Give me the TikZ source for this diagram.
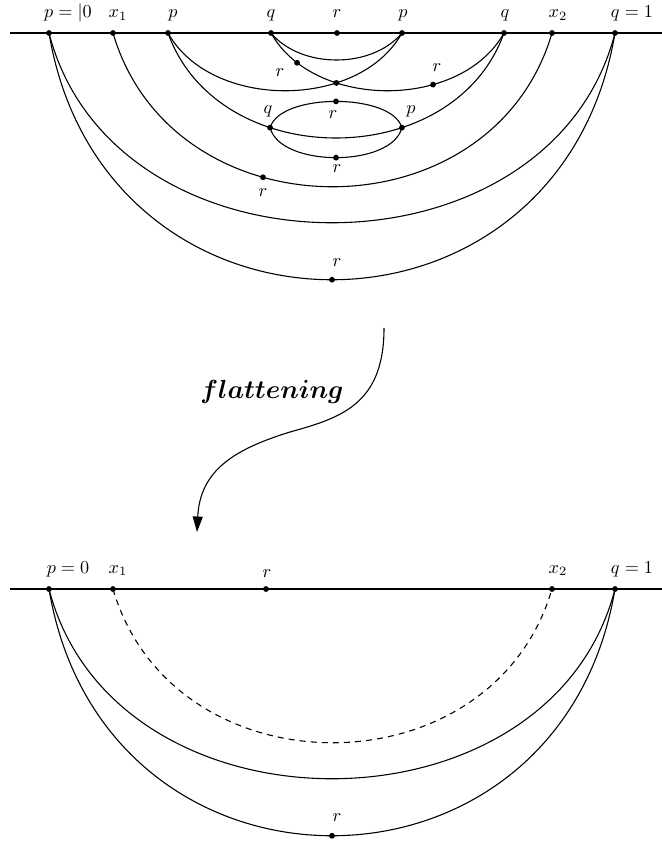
\documentclass[tikz,border=0pt]{standalone}
\usepackage{bm}
\usetikzlibrary{arrows.meta}
\begin{document}
\begin{tikzpicture}[x=0.55pt,y=-0.55pt,line width=0.6pt,
  dot/.style={circle,fill,inner sep=0pt,minimum size=3.2pt},
  lab/.style={inner sep=0pt,font=\fontsize{10}{12}\selectfont},
  bl/.style={lab,anchor=base},
  dashedarc/.style={dash pattern=on 3.3pt off 2.8pt},
  bigtext/.style={inner sep=0pt,font=\fontsize{13.8}{16}\selectfont}]
\useasboundingbox (0,0) rectangle (662,843);

% ---------- top axis ----------
\coordinate (L1) at (10,33);
\coordinate (R1) at (662,33);
\draw (L1) -- (R1);
\node[dot] (P0) at (49,33) {};
\node[dot] (X1) at (113,33) {};
\node[dot] (Pa) at (168,33) {};
\node[dot] (Qa) at (271,33) {};
\node[dot] (Ra) at (337,33) {};
\node[dot] (Pb) at (402,33) {};
\node[dot] (Qb) at (504,33) {};
\node[dot] (X2) at (552,33) {};
\node[dot] (Q1) at (615,33) {};

\node[bl] (lP0) at (68,18) {$p = |0$};
\node[bl] (lX1) at (118,18) {$x_1$};
\node[bl] (lPa) at (173,18) {$p$};
\node[bl] (lQa) at (271,18) {$q$};
\node[bl] (lRa) at (337,18) {$r$};
\node[bl] (lPb) at (403,18) {$p$};
\node[bl] (lQb) at (505,18) {$q$};
\node[bl] (lX2) at (558,18) {$x_2$};
\node[bl] (lQ1) at (632,18) {$q=1$};

% ---------- top arcs ----------
\draw (Qa.center) .. controls +(30,36) and +(-30,36) .. (Pb.center);
\draw (Qa.center) .. controls +(43,77) and +(-43,77) .. (Qb.center)
  node[dot,pos=0.152] (Rb1) {}
  node[dot,pos=0.316] (Xc) {}
  node[dot,pos=0.663] (Rb2) {};
\draw (Pa.center) .. controls +(43,77) and +(-43,77) .. (Pb.center);
\draw (Pa.center) .. controls +(50,140) and +(-50,140) .. (Qb.center)
  node[dot,pos=0.343] (Ql) {}
  node[dot,pos=0.657] (Pl) {};
\draw (Ql.center) .. controls +(10,-35) and +(-10,-35) .. (Pl.center)
  node[dot,pos=0.5] (Ru) {};
\draw (Ql.center) .. controls +(10,40) and +(-10,40) .. (Pl.center)
  node[dot,pos=0.5] (Rd) {};
\draw (X1.center) .. controls +(60,205) and +(-60,205) .. (X2.center)
  node[dot,pos=0.376] (Re) {};
\draw (P0.center) .. controls +(65,253) and +(-65,253) .. (Q1.center);
\draw (P0.center) .. controls +(55,329) and +(-55,329) .. (Q1.center)
  node[dot,pos=0.5] (Rg) {};

\node[lab] (lRb1) at (280,73) {$r$};
\node[lab] (lRb2) at (437,68) {$r$};
\node[lab] (lQl) at (268,111) {$q$};
\node[lab] (lPl) at (411,111) {$p$};
\node[lab] (lRu) at (333,115) {$r$};
\node[lab] (lRd) at (337,169) {$r$};
\node[lab] (lRe) at (263,193) {$r$};
\node[lab] (lRg) at (337,263) {$r$};

% ---------- arrow ----------
\coordinate (A0) at (384,328);
\coordinate (Am) at (290,432);
\coordinate (A1) at (197,532);
\draw (A0) .. controls (384,405) and (340,418) .. (Am);
\draw[-{Triangle[length=8.5pt,width=5.5pt]}] (Am) .. controls (235,449) and (200,470) .. (A1);
\node[bigtext] (flat) at (272,392) {$\bm{flattening}$};

% ---------- bottom axis ----------
\coordinate (L2) at (10,589);
\coordinate (R2) at (662,589);
\draw (L2) -- (R2);
\node[dot] (P0b) at (49,589) {};
\node[dot] (X1b) at (113,589) {};
\node[dot] (Rb) at (266,589) {};
\node[dot] (X2b) at (552,589) {};
\node[dot] (Q1b) at (615,589) {};

\node[bl] (lP0b) at (68,573) {$p=0$};
\node[bl] (lX1b) at (118,573) {$x_1$};
\node[bl] (lRb) at (267,577) {$r$};
\node[bl] (lX2b) at (558,573) {$x_2$};
\node[bl] (lQ1b) at (632,573) {$q=1$};

\draw[dashedarc] (X1b.center) .. controls +(60,205) and +(-60,205) .. (X2b.center);
\draw (P0b.center) .. controls +(65,253) and +(-65,253) .. (Q1b.center);
\draw (P0b.center) .. controls +(55,329) and +(-55,329) .. (Q1b.center)
  node[dot,pos=0.5] (Rgb) {};
\node[lab] (lRgb) at (337,818) {$r$};
\end{tikzpicture}
\end{document}
